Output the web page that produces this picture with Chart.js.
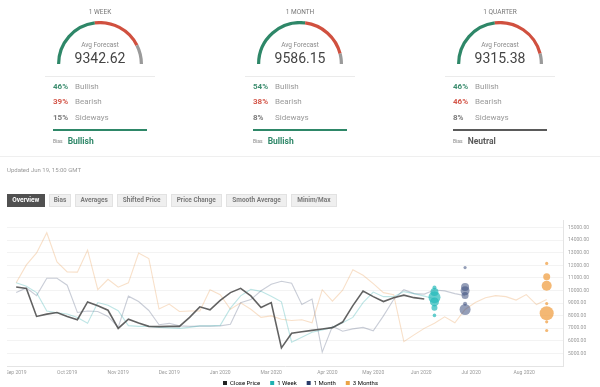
<!DOCTYPE html>
<html><head><meta charset="utf-8">
<script src="https://cdn.jsdelivr.net/npm/chart.js@4.4.0/dist/chart.umd.min.js"></script>
<style>
html,body{margin:0;padding:0;background:#fff;}
body{width:600px;height:387px;position:relative;overflow:hidden;font-family:Roboto,"Noto Sans",sans-serif;}
#root{position:absolute;left:0;top:0;width:600px;height:387px;will-change:transform;}
.a{position:absolute;white-space:nowrap;}
.tab{position:absolute;top:194px;height:12.5px;box-sizing:border-box;font-size:6.5px;font-weight:700;text-align:center;color:#7a7a7a;background:#efefef;border:1px solid #e2e2e2;line-height:10.5px;}
.tab.on{background:#505050;color:#fff;border-color:#505050;}
</style></head><body>
<div id="root"></div>
<script>
// ---------- gauge data ----------
const gaugeTitles = ['1 WEEK', '1 MONTH', '1 QUARTER'];
const gaugeAvg = ['9342.62', '9586.15', '9315.38'];
const gaugeBullish = [46, 54, 46];
const gaugeBearish = [39, 38, 46];
const gaugeSideways = [15, 8, 8];
const gaugeBias = ['Bullish', 'Bullish', 'Neutral'];
const updatedText = 'Updated Jun 19, 15:00 GMT';
const tabNames = ['Overview', 'Bias', 'Averages', 'Shifted Price', 'Price Change', 'Smooth Average', 'Minim/Max'];

// ---------- chart data (weekly index, 0 = first week of Sep 2019) ----------
const closePrice = [10280, 10165, 7940, 8120, 8250, 7940, 7680, 9090, 8780, 8430, 6990, 7720, 7410, 7150, 7130, 7150, 7150, 7860, 8700, 8470, 9220, 9830, 10170, 9570, 8650, 9040, 5440, 6600, 6720, 6830, 6940, 7050, 7490, 8800, 9950, 9510, 9120, 9430, 9630, 9430, 9320];
const oneWeek = [10610, 10340, 9830, 8370, 8230, 8130, 7860, 7390, 9040, 8830, 8390, 7210, 7150, 7150, 7070, 7030, 6990, 7070, 7190, 7190, 7230, 8600, 9570, 10090, 9930, 9540, 9100, 5890, 6280, 6680, 6870, 7070, 7430, 7860, 9040, 9870, 9510, 9510, 9910, 9750, 9550, 9340];
const oneMonth = [9830, 10200, 9590, 10970, 10970, 10420, 8250, 8370, 8330, 7940, 7070, 9550, 9120, 8410, 7280, 7390, 7190, 7150, 7170, 7170, 7190, 7310, 9020, 9280, 9980, 10500, 10730, 10580, 8880, 9320, 5100, 7150, 6760, 6950, 7070, 6800, 7980, 9280, 10060, 9750, 9710, 10040, 9970, 9750, 9590];
const threeMonths = [10610, 12030, 12980, 14590, 12270, 11480, 11460, 13210, 10060, 10890, 10260, 10610, 12980, 12540, 8530, 8920, 8330, 8370, 8370, 10050, 9670, 8510, 9020, 8510, 7860, 7980, 7720, 7620, 7680, 7440, 10060, 9150, 10020, 11640, 11210, 10540, 9830, 9670, 5930, 6470, 6990, 7390, 7910, 7430, 8490, 9040, 9420, 9590, 9510, 9240, 9670, 8880, 9280];

// forecast distributions (value, bubble size)
const weekHorizon = 41, monthHorizon = 44, quarterHorizon = 52;
const weekForecasts = [10240, 9880, 9460, 9090, 8620, 8020];
const weekSizes = [2, 4, 6, 4.5, 3, 1.8];
const monthForecasts = [11820, 10280, 9980, 9610, 8940, 8490];
const monthSizes = [1.6, 4, 4.5, 3.5, 2, 5.5];
const quarterForecasts = [12150, 11090, 10370, 8960, 8190, 7510, 6820];
const quarterSizes = [1.6, 3.5, 5, 1.6, 7, 1.6, 1.6];

// axis ticks
const xTickPos = [0, 5, 10, 15, 20, 25, 30.5, 35, 39.7, 44.6, 49.8];
const xTickLabels = ['Sep 2019', 'Oct 2019', 'Nov 2019', 'Dec 2019', 'Jan 2020', 'Mar 2020', 'Apr 2020', 'May 2020', 'Jun 2020', 'Jul 2020', 'Aug 2020'];
const yTicks = [5000, 6000, 7000, 8000, 9000, 10000, 11000, 12000, 13000, 14000, 15000];
const legendNames = ['Close Price', '1 Week', '1 Month', '3 Months'];

// ---------- styles ----------
const GREEN = '#2e8768', RED = '#d0503f', GREYARC = '#9a9a9a';
const root = document.getElementById('root');
function el(tag, css, text, parent) {
  const e = document.createElement(tag);
  e.className = 'a';
  e.style.cssText = css;
  if (text !== undefined) e.textContent = text;
  (parent || root).appendChild(e);
  return e;
}

gaugeTitles.forEach((t, c) => {
  const cx = 100 + 200 * c;
  el('div', `left:${cx - 100}px;width:200px;top:8px;font-size:6.5px;line-height:8px;text-align:center;color:#777;`, t);
  const cv = document.createElement('canvas');
  cv.width = 86; cv.height = 43;
  cv.style.cssText = `position:absolute;left:${cx - 43}px;top:20.5px;width:86px;height:43px;`;
  root.appendChild(cv);
  new Chart(cv, {
    type: 'doughnut',
    data: { labels: ['Bullish', 'Bearish', 'Sideways'], datasets: [{ data: [gaugeBullish[c], gaugeBearish[c], gaugeSideways[c]], backgroundColor: [GREEN, RED, GREYARC], borderWidth: 0 }] },
    options: { responsive: false, animation: false, rotation: -90, circumference: 180, cutout: '92.5%', layout: { padding: 0 }, events: [], plugins: { legend: { display: false }, tooltip: { enabled: false } } }
  });
  el('div', `left:${cx - 100}px;width:200px;top:40.5px;font-size:6.5px;line-height:8px;text-align:center;color:#8a8a8a;`, 'Avg Forecast');
  el('div', `left:${cx - 100}px;width:200px;top:49.5px;font-size:14px;line-height:16px;text-align:center;color:#444;`, gaugeAvg[c]);
  el('div', `left:${cx - 55}px;width:110px;top:76px;height:1px;background:#ebebeb;`);
  const rows = [[gaugeBullish[c] + '%', 'Bullish', '#3e8e70', 87.3], [gaugeBearish[c] + '%', 'Bearish', '#d4574a', 102.3], [gaugeSideways[c] + '%', 'Sideways', '#7a7a7a', 118.3]];
  rows.forEach(r => {
    el('div', `left:${cx - 47}px;top:${r[3] - 5}px;font-size:8px;line-height:10px;font-weight:700;color:${r[2]};`, r[0]);
    el('div', `left:${cx - 25}px;top:${r[3] - 5}px;font-size:8px;line-height:10px;color:#9a9a9a;`, r[1]);
  });
  const biasCol = gaugeBias[c] === 'Bullish' ? GREEN : (gaugeBias[c] === 'Bearish' ? RED : '#5a5a5a');
  el('div', `left:${cx - 47}px;width:94px;top:129px;height:2px;background:${biasCol};`);
  el('div', `left:${cx - 47}px;top:138px;font-size:5px;line-height:6px;color:#888;`, 'Bias');
  el('div', `left:${cx - 32.3}px;top:136px;font-size:8.5px;line-height:10px;font-weight:700;color:${biasCol};`, gaugeBias[c]);
});
el('div', 'left:0;width:600px;top:156px;height:1px;background:#efefef;');
el('div', 'left:7px;top:165.5px;font-size:6px;line-height:7px;color:#9a9a9a;', updatedText);

const tabLeft = [6.7, 49.3, 75, 116.7, 170.7, 225.7, 291];
const tabRight = [45, 70.7, 113.3, 166.7, 221.7, 287.3, 336.7];
tabNames.forEach((n, i) => {
  const d = document.createElement('div');
  d.className = 'tab' + (i === 0 ? ' on' : '');
  d.style.left = tabLeft[i] + 'px';
  d.style.width = (tabRight[i] - tabLeft[i]) + 'px';
  d.textContent = n;
  root.appendChild(d);
});

// ---------- main chart ----------
const wrap = el('div', 'left:7px;top:212px;width:593px;height:175px;overflow:hidden;');
const mc = document.createElement('canvas');
mc.width = 600; mc.height = 194;
mc.style.cssText = 'position:absolute;left:-7px;top:0;width:600px;height:194px;';
wrap.appendChild(mc);

const pts = arr => arr.map((v, i) => ({ x: i, y: v }));
const bub = (h, vals, sizes) => vals.map((v, i) => ({ x: h, y: v, r: sizes[i] }));
const legendColors = ['#222222', '#1fb1b1', '#2a3c6a', '#eba447'];

// pulls the legend closer to the axis labels while keeping wide item spacing
const legendNudge = { id: 'legendNudge', afterLayout(chart) { if (chart.legend) { chart.legend.top -= 10; chart.legend.bottom -= 10; } } };

new Chart(mc, {
  type: 'line',
  plugins: [legendNudge],
  data: {
    datasets: [
      { label: legendNames[0], data: pts(closePrice), borderColor: 'rgba(70,70,70,0.85)', borderWidth: 1.6, pointRadius: 0, order: 0 },
      { label: legendNames[1] + ' forecasts', type: 'bubble', data: bub(weekHorizon, weekForecasts, weekSizes), backgroundColor: 'rgba(35,185,185,0.7)', borderWidth: 0, order: 1 },
      { label: legendNames[2] + ' forecasts', type: 'bubble', data: bub(monthHorizon, monthForecasts, monthSizes), backgroundColor: 'rgba(60,78,125,0.55)', borderWidth: 0, order: 1 },
      { label: legendNames[3] + ' forecasts', type: 'bubble', data: bub(quarterHorizon, quarterForecasts, quarterSizes), backgroundColor: 'rgba(240,160,70,0.75)', borderWidth: 0, order: 1 },
      { label: legendNames[1], data: pts(oneWeek), borderColor: 'rgba(40,170,170,0.3)', borderWidth: 1.1, pointRadius: 0, order: 2 },
      { label: legendNames[2], data: pts(oneMonth), borderColor: 'rgba(60,75,110,0.28)', borderWidth: 1.1, pointRadius: 0, order: 3 },
      { label: legendNames[3], data: pts(threeMonths), borderColor: 'rgba(235,160,90,0.33)', borderWidth: 1.1, pointRadius: 0, order: 4 }
    ]
  },
  options: {
    responsive: false, animation: false, events: [],
    layout: { padding: { left: 7, right: 6, top: 3.5, bottom: 0 } },
    scales: {
      x: {
        type: 'linear', min: -0.9, max: 53.6,
        afterBuildTicks: s => { s.ticks = xTickPos.map(v => ({ value: v })); },
        grid: { display: false, drawTicks: false },
        border: { display: true, color: '#e4e4e4' },
        ticks: { autoSkip: false, maxRotation: 0, callback: (v, i) => xTickLabels[i], font: { size: 5, family: 'Roboto' }, color: '#9a9a9a', padding: 4 }
      },
      y: {
        position: 'right', min: 4000, max: 15600,
        afterBuildTicks: s => { s.ticks = yTicks.map(v => ({ value: v })); },
        grid: { color: '#f3f3f3', drawTicks: false },
        border: { display: true, color: '#e4e4e4' },
        ticks: { callback: v => Number(v).toFixed(2), font: { size: 5, family: 'Roboto' }, color: '#9a9a9a', padding: 5 }
      }
    },
    plugins: {
      tooltip: { enabled: false },
      legend: {
        position: 'bottom',
        labels: {
          boxWidth: 4, boxHeight: 4, padding: 10,
          font: { size: 6, family: 'Roboto' }, color: '#8a8a8a',
          generateLabels: () => legendNames.map((n, i) => ({ text: n, fillStyle: legendColors[i], strokeStyle: legendColors[i], lineWidth: 0, hidden: false, datasetIndex: i }))
        }
      }
    }
  }
});
</script>
</body></html>
